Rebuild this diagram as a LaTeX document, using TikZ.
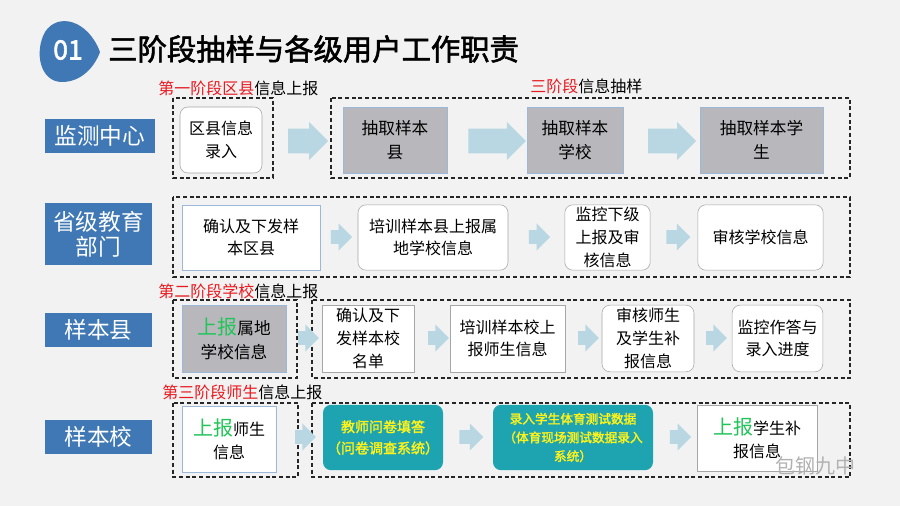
\documentclass[tikz,border=0pt]{standalone}
\usepackage{fontspec}
\setmainfont{Noto Sans CJK SC}
\newfontfamily\cjkb[FakeBold=2]{Noto Sans CJK SC}
\usetikzlibrary{shapes.arrows}
\definecolor{bg}{HTML}{F2F2F2}
\definecolor{lblue}{HTML}{3F78B4}
\definecolor{arr}{HTML}{B9D7E2}
\definecolor{teal2}{HTML}{1EA3B0}
\definecolor{gray2}{HTML}{B8B8BC}
\definecolor{greenT}{HTML}{22C45A}
\definecolor{redT}{HTML}{E8191F}
\definecolor{bord}{HTML}{9CB8D8}
\tikzset{
 lbl/.style={fill=lblue,text=white,font=\fontsize{17}{19}\selectfont,align=center,inner sep=0pt},
 dbox/.style={draw=black!85,dashed,line width=0.9pt,dash pattern=on 3pt off 2pt},
 wbox/.style={draw=gray!70,fill=white,rounded corners=6pt,align=center,font=\fontsize{12}{17}\selectfont,inner sep=0pt},
 sbox/.style={draw=gray!70,fill=white,align=center,font=\fontsize{12}{17}\selectfont,inner sep=0pt},
 gbox/.style={draw=bord,fill=gray2,align=center,font=\fontsize{12.5}{18}\selectfont,inner sep=0pt},
 tbox/.style={fill=teal2,rounded corners=6pt,align=center,text=yellow!90!white,font=\cjkb\fontsize{10.5}{16}\selectfont,inner sep=0pt},
 barr/.style={single arrow,fill=arr,draw=none,minimum height=#1,single arrow head extend=5pt,inner sep=5pt},
 stage/.style={font=\fontsize{12}{14}\selectfont,inner sep=0pt,anchor=west}
}
\begin{document}
\begin{tikzpicture}[x=0.75pt,y=-0.75pt]
\fill[bg] (0,0) rectangle (900,506);
\useasboundingbox (0,0) rectangle (900,506);
% title badge
\fill[lblue] (100,52) .. controls (88,20) and (58,12) .. (45,32) .. controls (34,52) and (40,82) .. (62,82) .. controls (82,82) and (95,66) .. (100,52);
\node[text=white,font=\cjkb\fontsize{20}{22}\selectfont] (n01) at (68,50) {01};
\node[anchor=west,font=\cjkb\fontsize{22}{24}\selectfont,inner sep=0pt] (title) at (108,49) {三阶段抽样与各级用户工作职责};
% row labels
\node[lbl,minimum width=82pt,minimum height=25pt] (l1) at (100,136) {监测中心};
\node[lbl,minimum width=80pt,minimum height=47pt] (l2) at (98.5,234) {省级教育\\部门};
\node[lbl,minimum width=80pt,minimum height=26pt] (l3) at (98.5,330) {样本县};
\node[lbl,minimum width=80pt,minimum height=26pt] (l4) at (98.5,437) {样本校};
% stage labels
\node[stage] (s1) at (158,88) {\textcolor{redT}{第一阶段区县}信息上报};
\node[stage] (s1b) at (530,86) {\textcolor{redT}{三阶段}信息抽样};
\node[stage] (s2) at (158,291) {\textcolor{redT}{第二阶段学校}信息上报};
\node[stage] (s3) at (162,392) {\textcolor{redT}{第三阶段师生}信息上报};
% dashed groups
\draw[dbox] (173,98) rectangle (273,178);
\draw[dbox] (331,98) rectangle (850,178);
\draw[dbox] (173,197) rectangle (850,277);
\draw[dbox] (173,300) rectangle (297,378);
\draw[dbox] (312,300) rectangle (850,378);
\draw[dbox] (173,403) rectangle (298,477);
\draw[dbox] (312,403) rectangle (850,477);
% row 1
\node[wbox,minimum width=61.5pt,minimum height=49.5pt] (a1) at (221,140) {区县信息\\录入};
\node[gbox,minimum width=78pt,minimum height=49.5pt] (a2) at (395,140) {抽取样本\\县};
\node[gbox,minimum width=72pt,minimum height=49.5pt] (a3) at (575,140) {抽取样本\\学校};
\node[gbox,minimum width=92pt,minimum height=49.5pt] (a4) at (761.5,140) {抽取样本学\\生};
\node[barr=30pt,inner sep=9pt] (r1a) at (302,141) {};
\node[barr=43pt,inner sep=9pt] (r1b) at (491,141) {};
\node[barr=36pt,inner sep=9pt] (r1c) at (666,141) {};
% row 2
\node[sbox,draw=bord,minimum width=103.5pt,minimum height=49pt] (b1) at (251,237.5) {确认及下发样\\本区县};
\node[wbox,minimum width=112.5pt,minimum height=49pt] (b2) at (433,237.5) {培训样本县上报属\\地学校信息};
\node[wbox,minimum width=64pt,minimum height=49pt] (b3) at (607.5,237.5) {监控下级\\上报及审\\核信息};
\node[wbox,minimum width=94pt,minimum height=49pt] (b4) at (760.5,237.5) {审核学校信息};
\node[barr=16pt] (r2a) at (338,237) {};
\node[barr=16pt] (r2b) at (536,237) {};
\node[barr=18pt] (r2c) at (675,237) {};
% row 3
\node[gbox,minimum width=78pt,minimum height=50pt] (c1) at (234,338.5) {\textcolor{greenT}{\fontsize{15}{18}\selectfont 上报}属地\\学校信息};
\node[sbox,minimum width=69pt,minimum height=50pt] (c2) at (368,338.5) {确认及下\\发样本校\\名单};
\node[sbox,minimum width=86pt,minimum height=50pt] (c3) at (507.5,338.5) {培训样本校上\\报师生信息};
\node[wbox,minimum width=69pt,minimum height=50pt] (c4) at (648,338.5) {审核师生\\及学生补\\报信息};
\node[wbox,minimum width=68pt,minimum height=50pt] (c5) at (777.5,338.5) {监控作答与\\录入进度};
\node[barr=13pt] (r3a) at (305,338) {};
\node[barr=12pt] (r3b) at (435,338) {};
\node[barr=12pt] (r3c) at (585,338) {};
\node[barr=14pt] (r3d) at (713,338) {};
% row 4
\node[sbox,draw=bord,minimum width=70.5pt,minimum height=49.5pt] (d1) at (229,439) {\textcolor{greenT}{\fontsize{15}{18}\selectfont 上报}师生\\信息};
\node[tbox,minimum width=90pt,minimum height=49pt] (d2) at (383,437.5) {教师问卷填答\\（问卷调查系统）};
\node[tbox,minimum width=120pt,minimum height=49pt,font=\cjkb\fontsize{9.5}{14}\selectfont] (d3) at (573,437.5) {录入学生体育测试数据\\（体育现场测试数据录入\\系统）};
\node[sbox,minimum width=90pt,minimum height=49.5pt] (d4) at (757,438) {\textcolor{greenT}{\fontsize{15}{18}\selectfont 上报}学生补\\报信息};
\node[barr=14pt] (r4a) at (302,437) {};
\node[barr=18pt] (r4b) at (468,437) {};
\node[barr=16pt] (r4c) at (677,437) {};
% watermark
\node[text=gray!60,font=\fontsize{15}{17}\selectfont] (wm) at (815,466) {包钢九中};
\end{tikzpicture}
\end{document}
